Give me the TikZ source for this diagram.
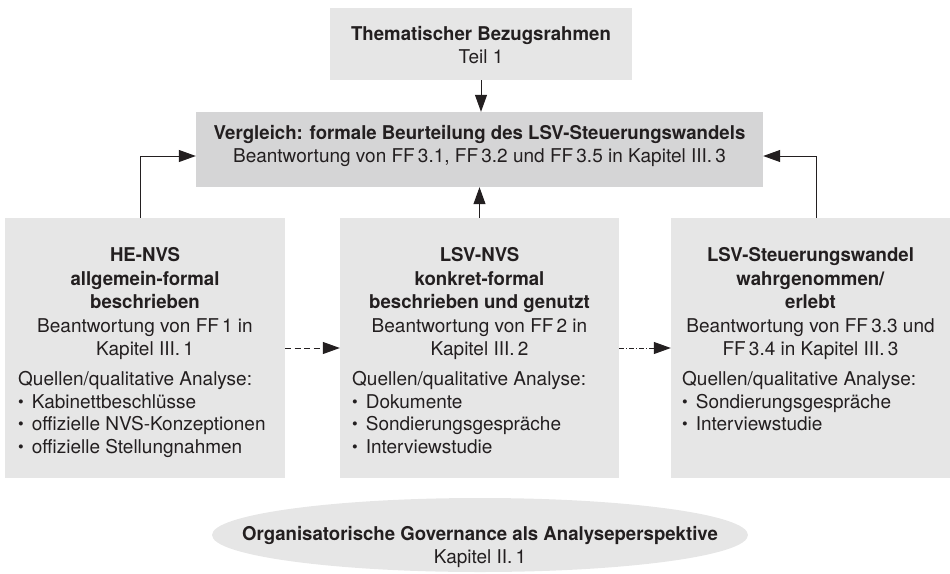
\documentclass[tikz,border=0pt]{standalone}
\usepackage{fontspec}
\setmainfont{TeX Gyre Heros}[BoldFeatures={FakeStretch=0.98}]
\usetikzlibrary{arrows.meta,shapes.geometric}
\definecolor{panelgray}{RGB}{230,230,230}
\definecolor{cmpgray}{RGB}{213,213,214}
\definecolor{ink}{RGB}{35,31,32}
\newcommand\srcitem{\raisebox{0.12ex}{\scalebox{0.85}{\textbullet}}\hspace{0.42em}}

\begin{document}
\begin{tikzpicture}[x=1pt,y=-1pt,
    font=\fontsize{19}{23.5}\selectfont,text=ink,
    panel/.style={fill=panelgray,minimum width=280pt,minimum height=260pt,inner sep=0pt},
    headtext/.style={anchor=north,align=center,inner sep=0pt},
    srctext/.style={anchor=north west,align=left,inner sep=0pt,font=\fontsize{19}{22.8}\selectfont},
    link/.style={draw=ink,line width=1pt,-{Triangle[length=17pt,width=12pt]}}]
    \useasboundingbox (0,0) rectangle (950,573);
    % top row
    \node at (481,44) [fill=panelgray,minimum width=302pt,minimum height=72pt] (frame) {};
    \node at (481,26) [headtext] (frametext) {\textbf{Thematischer Bezugsrahmen}\\Teil 1};
    \node at (479.5,149.5) [fill=cmpgray,minimum width=567pt,minimum height=75pt] (cmp) {};
    \node at (479.5,125) [headtext] (cmptext) {\textbf{Vergleich: formale Beurteilung des LSV-Steuerungswandels}\\Beantwortung von FF\,3.1, FF\,3.2 und FF\,3.5 in Kapitel III.\,3};
    % three panels
    \node at (145,348) [panel] (he) {};
    \node at (479.5,348) [panel,minimum width=279pt] (lsv) {};
    \node at (810.5,348) [panel,minimum width=279pt] (wahr) {};
    \node at (145,247.5) [headtext] (hehead) {\textbf{HE-NVS}\\\textbf{allgemein-formal}\\\textbf{beschrieben}\\Beantwortung von FF\,1 in\\Kapitel III.\,1};
    \node at (479.5,247.5) [headtext] (lsvhead) {\textbf{LSV-NVS}\\\textbf{konkret-formal}\\\textbf{beschrieben und genutzt}\\Beantwortung von FF\,2 in\\Kapitel III.\,2};
    \node at (810.5,247.5) [headtext] (wahrhead) {\textbf{LSV-Steuerungswandel}\\\textbf{wahrgenommen/}\\\textbf{erlebt}\\Beantwortung von FF\,3.3 und\\FF\,3.4 in Kapitel III.\,3};
    \node at (18,371) [srctext] (hesrc) {Quellen/qualitative Analyse:\\\srcitem Kabinettbeschlüsse\\\srcitem offizielle NVS-Konzeptionen\\\srcitem offizielle Stellungnahmen};
    \node at (352,371) [srctext] (lsvsrc) {Quellen/qualitative Analyse:\\\srcitem Dokumente\\\srcitem Sondierungsgespräche\\\srcitem Interviewstudie};
    \node at (682,371) [srctext] (wahrsrc) {Quellen/qualitative Analyse:\\\srcitem Sondierungsgespräche\\\srcitem Interviewstudie};
    % bottom
    \node at (480,535) [ellipse,fill=panelgray,minimum width=536pt,minimum height=74pt,inner sep=0pt] (gov) {};
    \node at (480,526) [headtext] (govtext) {\textbf{Organisatorische Governance als Analyseperspektive}\\Kapitel II.\,1};
    % connectors
    \draw[link] (frame.south) -- (frame.south|-cmp.north);
    \draw[link] (lsv.north) -- (cmp.south);
    \draw[link] ([xshift=-5pt]he.north) |- ([yshift=-6.5pt]cmp.west);
    \draw[link] ([xshift=5.5pt]wahr.north) |- ([yshift=-6.5pt]cmp.east);
    \draw[link,dash pattern=on 6pt off 3.5pt] (he.east) -- (lsv.west);
    \draw[link,dash pattern=on 5pt off 2pt on 1pt off 2pt] (lsv.east) -- (wahr.west);
\end{tikzpicture}
\end{document}
